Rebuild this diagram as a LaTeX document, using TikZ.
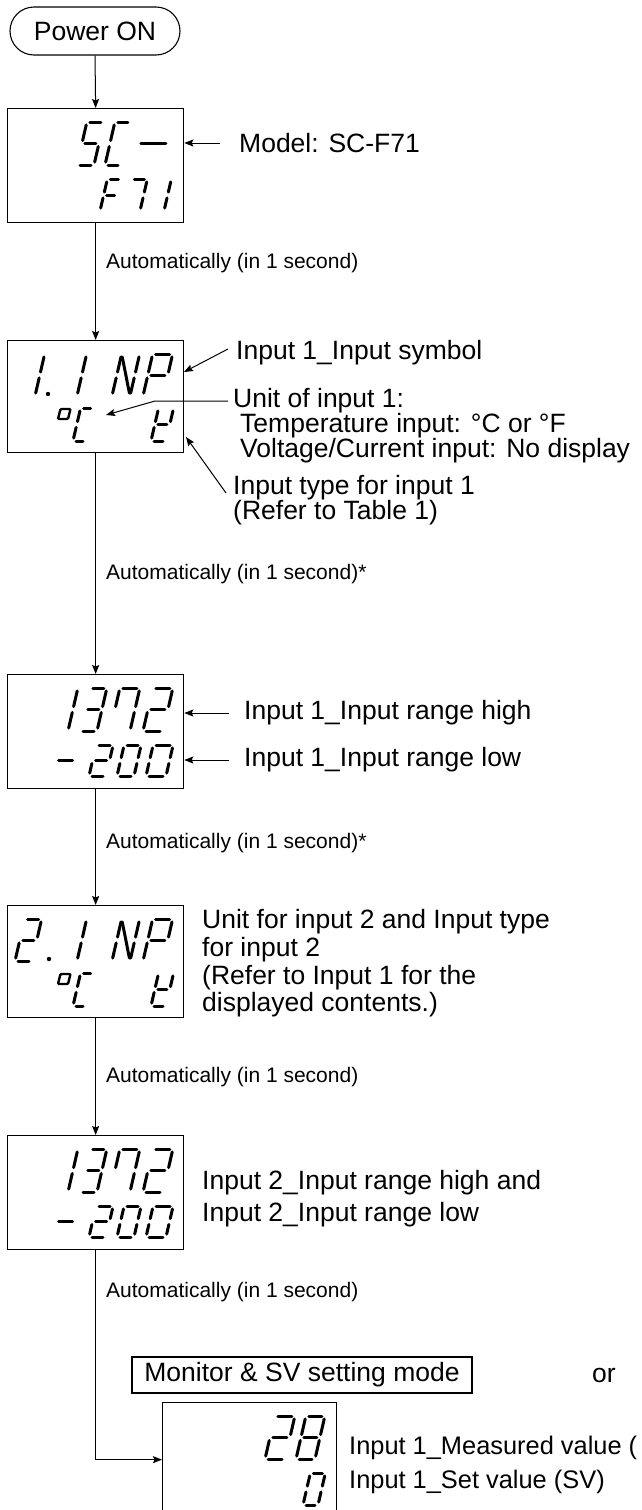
\documentclass[tikz,border=0pt]{standalone}
\usepackage{fontspec}
\setmainfont{Liberation Sans}
\usetikzlibrary{arrows.meta}
\newcommand\mainf{\fontsize{26.5}{30}\selectfont}
\newcommand\lowf{\fontsize{25.4}{29}\selectfont}
\newcommand\smallf{\fontsize{21}{25}\selectfont}
\def\segsh{3pt}
\tikzset{
  seg/.style={line width=3pt, line cap=round, shorten >=\segsh, shorten <=\segsh},
  degbox/.style={line width=2.4pt, rounded corners=1pt},
  bx/.style={draw, line width=1.3pt, inner sep=0pt, anchor=north west},
  arr/.style={line width=1pt, -{Stealth[length=9pt,width=7pt,inset=1.5pt]}},
  txt/.style={font=\mainf, anchor=west, inner sep=0pt},
  stxt/.style={font=\smallf, anchor=west, inner sep=0pt},
}
\newcommand\segline[4]{\draw[seg] ({\gX+(#1)*\gW+(#2)*\gH*0.23},{\gY-(#2)*\gH}) -- ({\gX+(#3)*\gW+(#4)*\gH*0.23},{\gY-(#4)*\gH});}
\def\segA{\segline{0}{1}{1}{1}}
\def\segB{\segline{1}{1}{1}{.5}}
\def\segC{\segline{1}{.5}{1}{0}}
\def\segD{\segline{0}{0}{1}{0}}
\def\segE{\segline{0}{0}{0}{.5}}
\def\segF{\segline{0}{.5}{0}{1}}
\def\segG{\segline{0}{.5}{1}{.5}}
\def\segN{\segline{0}{1}{1}{0}}
\newcommand\ssglyph[5]{\def\gX{#1}\def\gY{#2}\def\gW{#3}\def\gH{#4}\foreach \s in {#5}{\csname seg\s\endcsname}}
% degree sign: small slanted box, lower-left corner at (#1,#2)
\newcommand\degglyph[2]{\draw[degbox] (#1,#2) -- ++(10,0) -- ++(2.5,-10) -- ++(-10,0) -- cycle;}
\begin{document}
\begin{tikzpicture}[x=1pt,y=-1pt]
\useasboundingbox (0,0) rectangle (642,1510);
\clip (0,0) rectangle (642,1510);

% Power ON
\node[draw, line width=1.1pt, rounded corners=24pt, minimum width=170pt, minimum height=48pt, font=\mainf] (pw) at (95,31) {Power ON};

% display boxes
\node[bx, minimum width=176pt, minimum height=114pt] (b2) at (7,108) {};
\node[bx, minimum width=176pt, minimum height=112pt] (b3) at (7,340) {};
\node[bx, minimum width=176pt, minimum height=114pt] (b4) at (7,674) {};
\node[bx, minimum width=176pt, minimum height=112pt] (b5) at (7,905) {};
\node[bx, minimum width=176pt, minimum height=114pt] (b6) at (7,1135) {};
\node[bx, minimum width=174pt, minimum height=114pt] (b7) at (162,1402) {};

% main flow connectors
\draw[arr] (pw.south) -- (b2.north);
\draw[arr] (b2.south) -- (b3.north);
\draw[arr] (b3.south) -- (b4.north);
\draw[arr] (b4.south) -- (b5.north);
\draw[arr] (b5.south) -- (b6.north);
\draw[arr] (b6.south) |- (b7.west);

% automatic labels
\node[stxt] (a1) at (106,263) {Automatically (in 1 second)};
\node[stxt] (a2) at (106,574) {Automatically (in 1 second)*};
\node[stxt] (a3) at (106,843) {Automatically (in 1 second)*};
\node[stxt] (a4) at (106,1077) {Automatically (in 1 second)};
\node[stxt] (a5) at (106,1292) {Automatically (in 1 second)};

% box 2: SC- / F71
\ssglyph{77}{165}{17}{43}{A,F,G,C,D}
\ssglyph{105}{165}{16}{43}{A,F,E,D}
\ssglyph{133}{165}{31}{43}{G}
\ssglyph{100}{211}{14}{32}{A,F,E,G}
\ssglyph{124}{211}{16}{32}{A,B,C}
\ssglyph{164}{211}{10}{32}{E,F}
\node[txt] (tmodel) at (239,143) {Model: SC-F71};
\coordinate (m1) at (220,143);
\draw[arr] (m1) -- (b2.east |- m1);

% box 3: 1.INP / degC K
\ssglyph{35}{396}{10}{42}{E,F}
\fill (48,394) circle (2.2pt);
\ssglyph{77}{396}{10}{42}{E,F}
\ssglyph{112}{396}{18}{42}{E,F,B,C,N}
\ssglyph{143}{396}{20}{42}{A,B,F,G,E}
\degglyph{58}{419}
\ssglyph{73}{441}{13}{33}{A,F,E,D}
\ssglyph{151}{441}{15}{33}{B,D,E,F,G}
\node[txt] (tsym) at (236,353) {Input 1\_Input symbol};
\coordinate (s1) at (228,349);
\coordinate (s2) at (184,372);
\draw[arr] (s1) -- (s2);
\node[txt] (tu1) at (233,401) {Unit of input 1:};
\node[txt] (tu2) at (240,426) {Temperature input: °C or °F};
\node[txt] (tu3) at (240,451) {Voltage/Current input: No display};
\coordinate (u1) at (228,401);
\coordinate (u2) at (155,401);
\coordinate (u3) at (106,415);
\draw[arr] (u1) -- (u2) -- (u3);
\node[txt] (tt1) at (233,488) {Input type for input 1};
\node[txt] (tt2) at (233,513) {(Refer to Table 1)};
\coordinate (k1) at (226,493);
\coordinate (k2) at (186,437);
\draw[arr] (k1) -- (k2);

% box 4: 1372 / -200
\ssglyph{68}{731}{10}{43}{E,F}
\ssglyph{80}{731}{17}{43}{A,B,G,C,D}
\ssglyph{110}{731}{20}{43}{A,B,C,F}
\ssglyph{143}{731}{20}{43}{A,B,G,E,D}
\ssglyph{52}{776}{20}{31}{G}
\ssglyph{89}{776}{17}{31}{A,B,G,E,D}
\ssglyph{117}{776}{17}{31}{A,B,C,D,E,F}
\ssglyph{146}{776}{20}{31}{A,B,C,D,E,F}
\node[txt] (th1) at (244,713) {Input 1\_Input range high};
\node[txt] (tl1) at (244,760) {Input 1\_Input range low};
\coordinate (h1) at (229,713);
\coordinate (l1) at (229,760);
\draw[arr] (h1) -- (b4.east |- h1);
\draw[arr] (l1) -- (b4.east |- l1);

% box 5: 2.INP / degC K
\ssglyph{15}{961}{17}{42}{A,B,G,E,D}
\fill (49,959) circle (2.2pt);
\ssglyph{77}{961}{10}{42}{E,F}
\ssglyph{112}{961}{18}{42}{E,F,B,C,N}
\ssglyph{143}{961}{20}{42}{A,B,F,G,E}
\degglyph{58}{984}
\ssglyph{73}{1006}{13}{33}{A,F,E,D}
\ssglyph{151}{1006}{15}{33}{B,D,E,F,G}
\node[txt] (t51) at (202,922) {Unit for input 2 and Input type};
\node[txt] (t52) at (202,950) {for input 2};
\node[txt] (t53) at (202,978) {(Refer to Input 1 for the};
\node[txt] (t54) at (202,1005) {displayed contents.)};

% box 6: 1372 / -200
\ssglyph{68}{1192}{10}{43}{E,F}
\ssglyph{80}{1192}{17}{43}{A,B,G,C,D}
\ssglyph{110}{1192}{20}{43}{A,B,C,F}
\ssglyph{143}{1192}{20}{43}{A,B,G,E,D}
\ssglyph{52}{1237}{20}{31}{G}
\ssglyph{89}{1237}{17}{31}{A,B,G,E,D}
\ssglyph{117}{1237}{17}{31}{A,B,C,D,E,F}
\ssglyph{146}{1237}{20}{31}{A,B,C,D,E,F}
\node[txt] (t61) at (202,1183) {Input 2\_Input range high and};
\node[txt] (t62) at (202,1215) {Input 2\_Input range low};

% monitor mode
\node[draw, line width=1.1pt, minimum width=340pt, minimum height=36pt, font=\mainf] (mon) at (302,1375) {Monitor \& SV setting mode};
\node[font=\mainf, inner sep=0pt] (or) at (604,1375) {or};

% box 7: 28 / 0
\ssglyph{265}{1459}{20}{43}{A,B,G,E,D}
\ssglyph{296}{1459}{19}{43}{A,B,C,D,E,F,G}
\ssglyph{303}{1505}{15}{32}{A,B,C,D,E,F}
\node[txt, font=\lowf] (t71) at (349,1448) {Input 1\_Measured value (};
\node[txt, font=\lowf] (t72) at (349,1482) {Input 1\_Set value (SV)};
\end{tikzpicture}
\end{document}
